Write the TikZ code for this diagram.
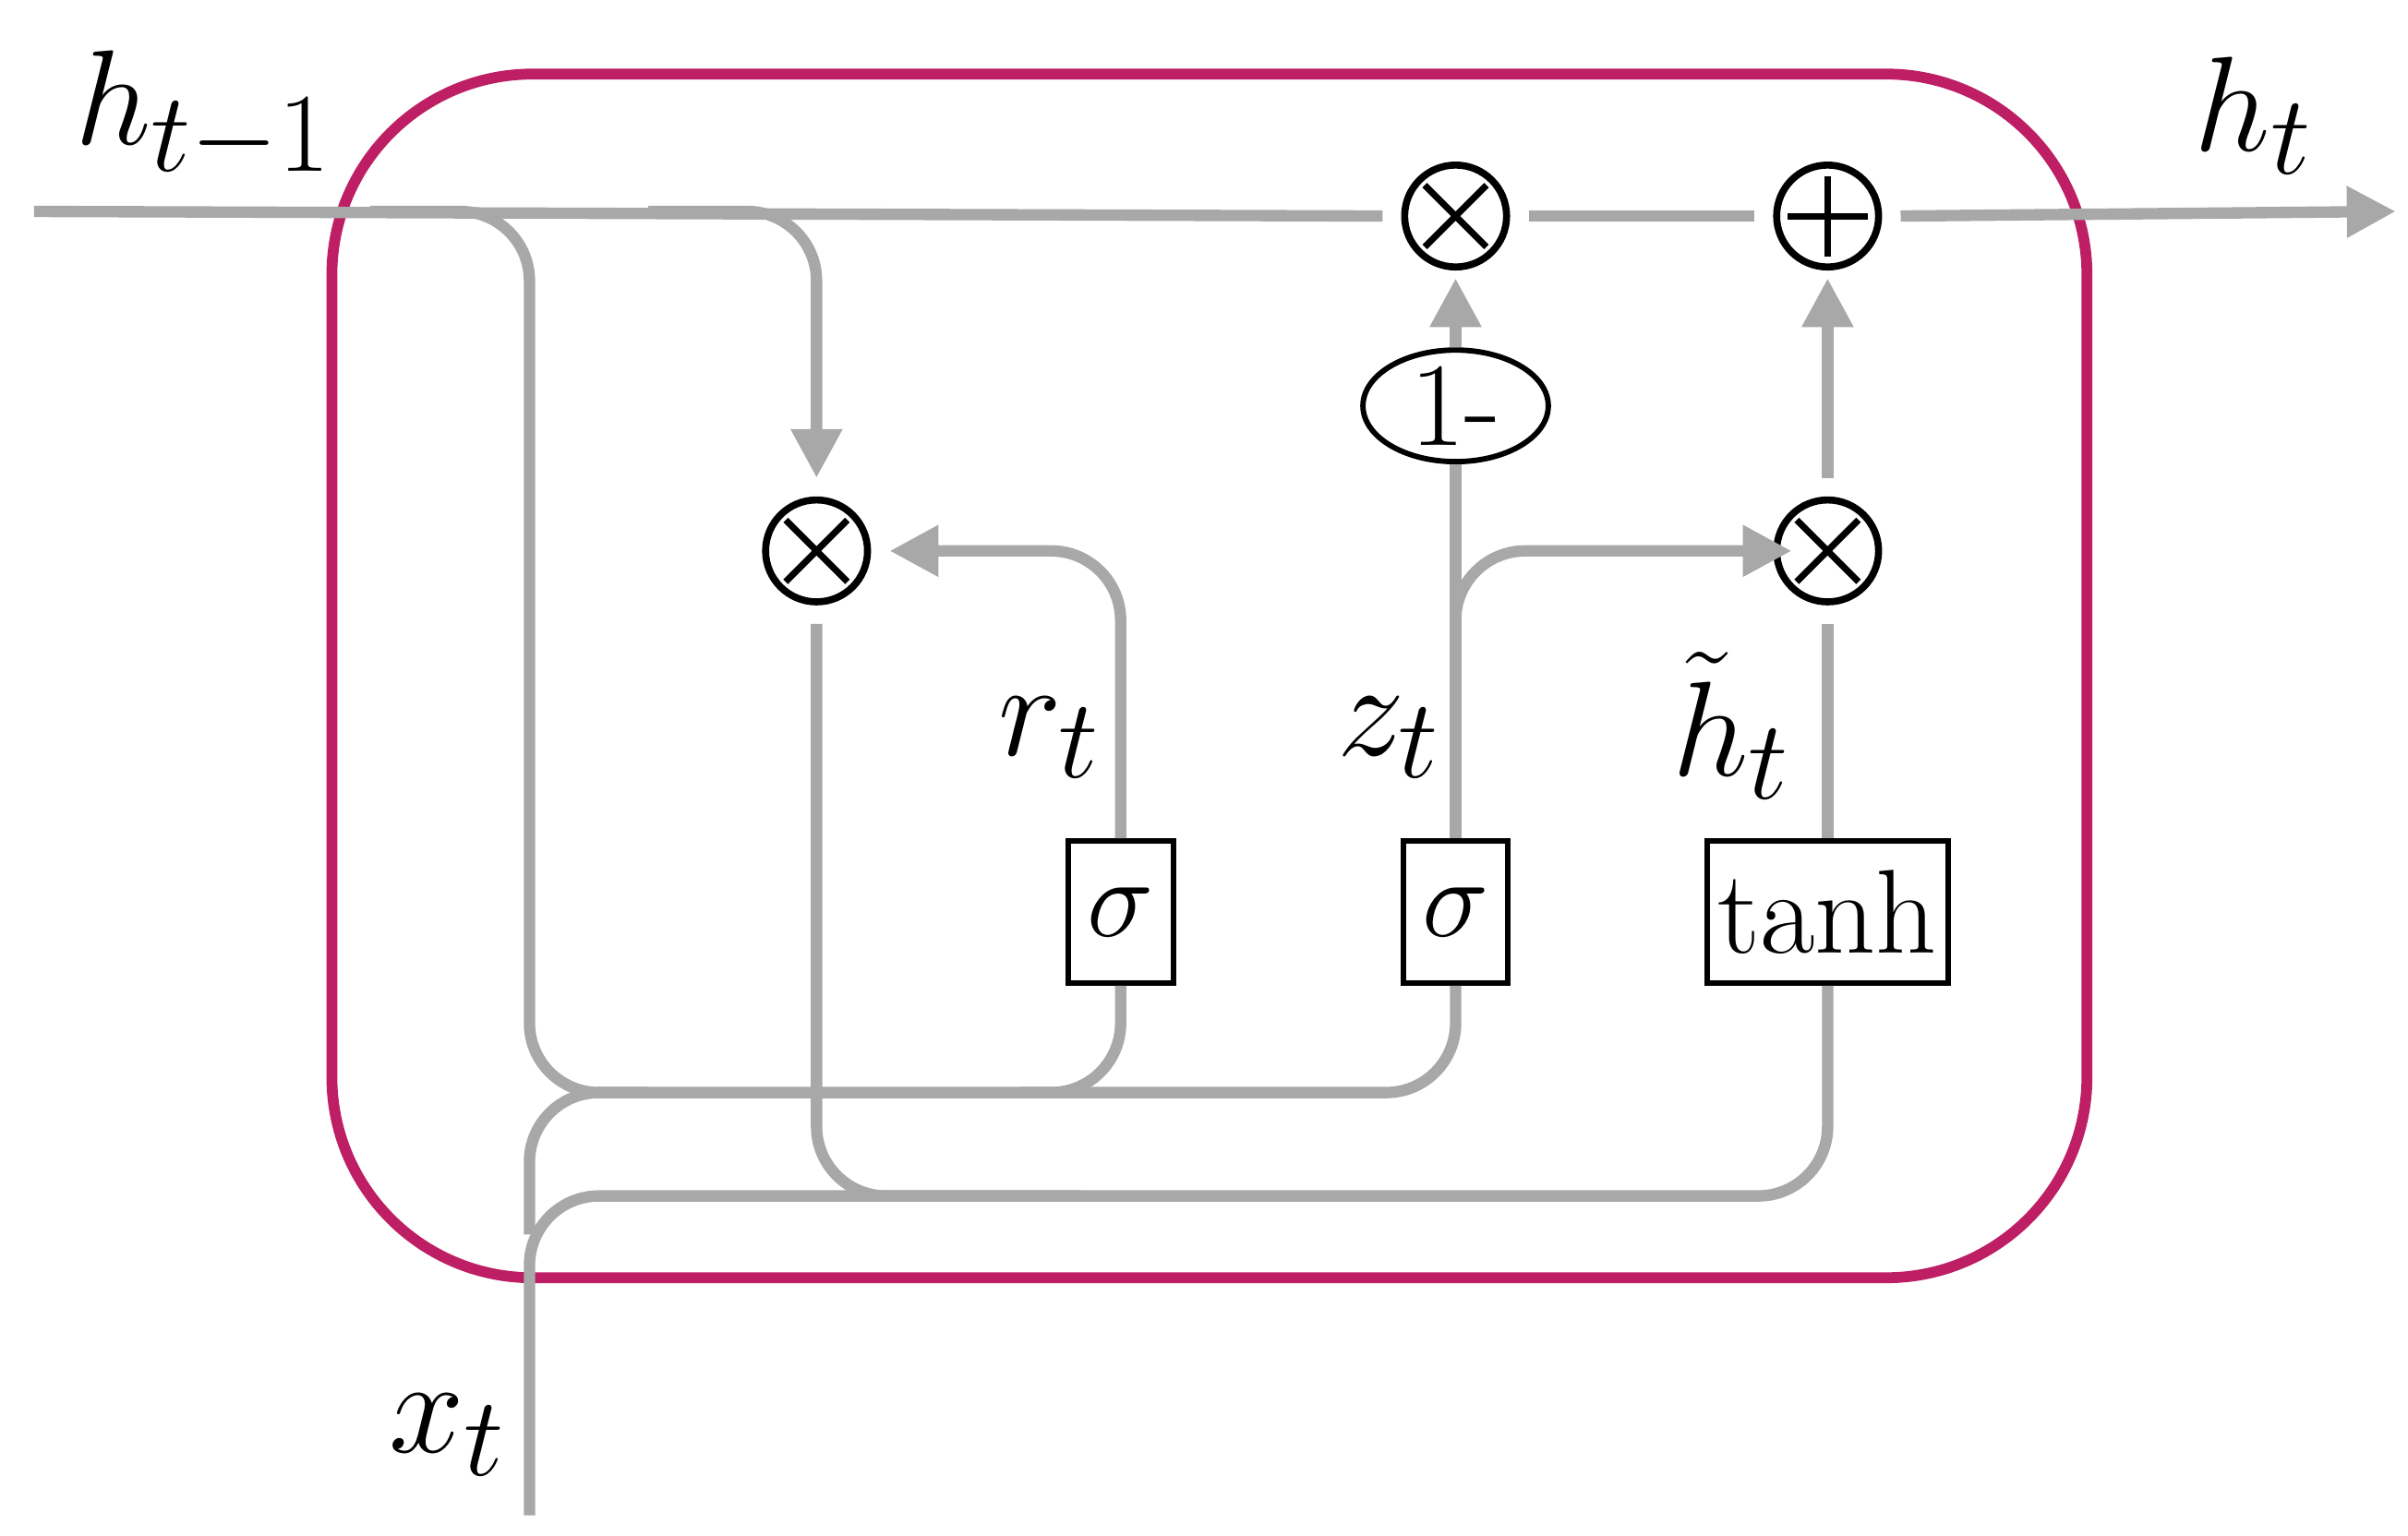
\documentclass[tikz,border=0pt]{standalone}
\usepackage{amsmath}
\usetikzlibrary{arrows.meta,shapes.geometric}
\definecolor{cellred}{RGB}{190,30,100}
\definecolor{wiregray}{RGB}{168,168,168}
\tikzset{
  wire/.style={draw=wiregray, line width=2.1pt, rounded corners=0.45cm},
  arr/.style={-{Triangle[length=9pt,width=9pt]}},
  op/.style={draw, circle, line width=1.3pt, minimum size=0.66cm, inner sep=0pt},
  mul/.style={op, path picture={\draw[line width=1.2pt]
     ([shift={(-0.2cm,-0.2cm)}]path picture bounding box.center) -- ++(0.4cm,0.4cm)
     ([shift={(-0.2cm,0.2cm)}]path picture bounding box.center) -- ++(0.4cm,-0.4cm);}},
  add/.style={op, path picture={\draw[line width=1.2pt]
     ([xshift=-0.26cm]path picture bounding box.center) -- ++(0.52cm,0)
     ([yshift=-0.26cm]path picture bounding box.center) -- ++(0,0.52cm);}},
  gate/.style={draw, line width=1pt, minimum height=0.92cm, inner sep=2pt, font=\fontsize{22}{24}\selectfont},
  lbl/.style={font=\fontsize{28}{32}\selectfont}
}
\begin{document}
\begin{tikzpicture}[x=0.01cm,y=-0.01cm]
  \useasboundingbox (0,0) rectangle (1560,995);
  % cell
  \draw[cellred, line width=2pt, rounded corners=1.3cm] (215,48) rectangle (1352,828);

  % operators and gates
  \node[mul] (mulz) at (943,140) {};
  \node[add] (addh) at (1184,140) {};
  \node[mul] (mulr) at (529,357) {};
  \node[mul] (mulc) at (1184,357) {};
  \node[ellipse, draw, line width=1pt, minimum width=1.2cm, minimum height=0.68cm, inner sep=0pt,
        font=\fontsize{22}{24}\selectfont] (oneminus) at (943,263) {1-};
  \node[gate, minimum width=0.68cm] (sigr) at (726,591) {$\sigma$};
  \node[gate, minimum width=0.68cm] (sigz) at (943,591) {$\sigma$};
  \node[gate, minimum width=1.45cm] (tanh) at (1184,591) {tanh};

  \coordinate (hin) at (22,137);
  \coordinate (hout) at (1552,137);
  \coordinate (xin) at (343,982);

  % labels
  \node[lbl] at (132,75) {$h_{t-1}$};
  \node[lbl] at (1460,75) {$h_t$};
  \node[lbl] at (290,930) {$x_t$};
  \node[lbl] at (680,478) {$r_t$};
  \node[lbl] at (900,478) {$z_t$};
  \node[lbl] at (1122,470) {$\tilde{h}_t$};

  % state line
  \draw[wire] (hin) -- ([xshift=-0.12cm]mulz.west);
  \draw[wire] ([xshift=0.12cm]mulz.east) -- ([xshift=-0.12cm]addh.west);
  \draw[wire,arr] ([xshift=0.12cm]addh.east) -- (hout);

  % h_{t-1} into gates
  \draw[wire] (240,137) -| (343,400) -- (343,708) -| (sigz.south);
  \draw[wire] (660,708) -| (sigr.south);
  \draw[wire,arr] (420,137) -| ([yshift=0.12cm]mulr.north);

  % x_t into gates
  \draw[wire] (xin) -- (343,775) -| (tanh.south);
  \draw[wire] (343,800) |- (420,708);

  % reset gate
  \draw[wire,arr] (sigr.north) |- ([xshift=0.12cm]mulr.east);
  \draw[wire] ([yshift=-0.12cm]mulr.south) |- (700,775);

  % update gate
  \draw[wire] (sigz.north) -- (oneminus.south);
  \draw[wire,arr] (oneminus.north) -- ([yshift=-0.05cm]mulz.south);
  \draw[wire,arr] (943,420) |- ([xshift=0.12cm]mulc.west);

  % candidate
  \draw[wire] (tanh.north) -- ([yshift=-0.12cm]mulc.south);
  \draw[wire,arr] ([yshift=0.12cm]mulc.north) -- ([yshift=-0.05cm]addh.south);
\end{tikzpicture}
\end{document}
